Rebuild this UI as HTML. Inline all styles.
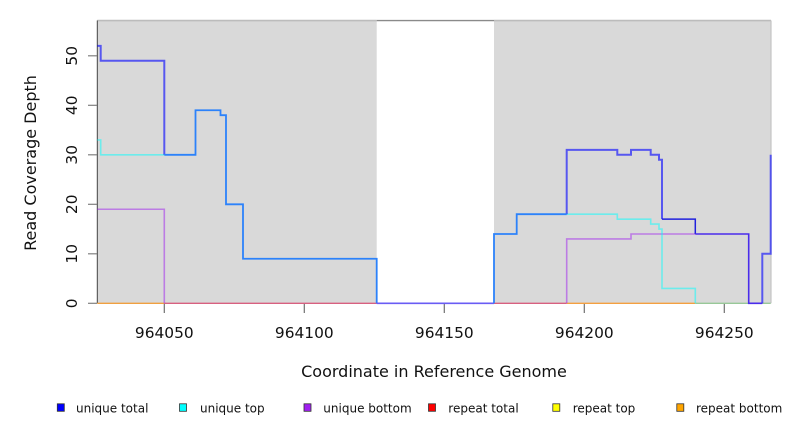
<!DOCTYPE html>
<html>
<head>
<meta charset="utf-8">
<style>
html,body{margin:0;padding:0;background:#fff;}
svg{display:block;}
text{font-family:"DejaVu Sans","Liberation Sans",sans-serif;fill:#111;}
</style>
</head>
<body>
<svg width="792" height="432" viewBox="0 0 792 432" xmlns="http://www.w3.org/2000/svg">
  <!-- gray panels -->
  <rect x="97.3" y="20.5" width="279.4" height="282.8" fill="#d9d9d9"/>
  <rect x="494" y="20.5" width="277" height="282.8" fill="#d9d9d9"/>
  <!-- box -->
  <line x1="97.3" y1="20.6" x2="376.7" y2="20.6" stroke="#bcbcbc" stroke-width="1.6"/>
  <line x1="376.7" y1="20.6" x2="494" y2="20.6" stroke="#8a8a8a" stroke-width="1.4"/>
  <line x1="494" y1="20.6" x2="771" y2="20.6" stroke="#bcbcbc" stroke-width="1.6"/>
  <line x1="771" y1="20.5" x2="771" y2="303.3" stroke="#c4c4c4" stroke-width="1.2"/>
  <line x1="97.3" y1="20.5" x2="97.3" y2="303.3" stroke="#444" stroke-width="1"/>

  <!-- y ticks -->
  <g stroke="#808080" stroke-width="1.2">
    <line x1="88" y1="303.3" x2="97" y2="303.3"/>
    <line x1="88" y1="253.8" x2="97" y2="253.8"/>
    <line x1="88" y1="204.3" x2="97" y2="204.3"/>
    <line x1="88" y1="154.8" x2="97" y2="154.8"/>
    <line x1="88" y1="105.3" x2="97" y2="105.3"/>
    <line x1="88" y1="55.8" x2="97" y2="55.8"/>
  </g>
  <!-- x ticks -->
  <g stroke="#707070" stroke-width="1.2">
    <line x1="164.3" y1="303.3" x2="164.3" y2="313"/>
    <line x1="304.3" y1="303.3" x2="304.3" y2="313"/>
    <line x1="444.3" y1="303.3" x2="444.3" y2="313"/>
    <line x1="584.3" y1="303.3" x2="584.3" y2="313"/>
    <line x1="724.3" y1="303.3" x2="724.3" y2="313"/>
  </g>

  <!-- baseline (repeat series at 0) -->
  <g stroke-width="1.4" fill="none">
    <line x1="97.3" y1="303.3" x2="164.3" y2="303.3" stroke="#f0a040"/>
    <line x1="164.3" y1="303.3" x2="376.7" y2="303.3" stroke="#d86080"/>
    <line x1="376.7" y1="303.3" x2="494" y2="303.3" stroke="#7464f0"/>
    <line x1="494" y1="303.3" x2="566.7" y2="303.3" stroke="#d86080"/>
    <line x1="566.7" y1="303.3" x2="695.3" y2="303.3" stroke="#f4a040"/>
    <line x1="695.3" y1="303.3" x2="748.7" y2="303.3" stroke="#98c898"/>
    <line x1="748.7" y1="303.3" x2="762.3" y2="303.3" stroke="#5a40f0"/>
    <line x1="762.3" y1="303.3" x2="770.7" y2="303.3" stroke="#98c898"/>
  </g>

  <!-- unique bottom -->
  <path d="M97.3,209.25 H164.3 V303.3 M566.7,303.3 V238.95 H631 V234 H695.3"
        fill="none" stroke="rgba(160,32,240,0.5)" stroke-width="1.6"/>
  <!-- unique top (non-overlapping parts) -->
  <path d="M97.3,139.95 H100.7 V154.8 H164.3 M566.7,214.2 H617.3 V219.15 H650.7 V224.1 H659 V229.05 H662 V288.45 H695.3 V303.3"
        fill="none" stroke="rgba(0,255,255,0.5)" stroke-width="1.6"/>
  <!-- total (only) -->
  <path d="M97.3,45.9 H100.7 V60.75 H164.3 V154.8"
        fill="none" stroke="rgba(0,0,255,0.6)" stroke-width="2"/>
  <path d="M566.7,214.2 V149.85 H617.3 V154.8 H631 V149.85 H650.7 V154.8 H659 V159.75 H662 V219.15"
        fill="none" stroke="rgba(0,0,255,0.6)" stroke-width="2"/>
  <path d="M762.3,303.3 V253.8 H770.7 V154.8"
        fill="none" stroke="rgba(0,0,255,0.6)" stroke-width="2"/>
  <path d="M662,219.15 H695.3 V234"
        fill="none" stroke="#2020dd" stroke-width="1.5"/>
  <!-- total + bottom overlap -->
  <path d="M695.3,234 H748.7 V303.3 H762.3"
        fill="none" stroke="#4a2cec" stroke-width="1.6"/>
  <!-- total + top overlap (dodger blue) -->
  <path d="M164.3,154.8 H195.5 V110.25 H220.5 V115.2 H226 V204.3 H243 V258.75 H376.7 V303.3"
        fill="none" stroke="#2c82fa" stroke-width="1.8"/>
  <path d="M376.7,303.3 H494" fill="none" stroke="#6a5cf4" stroke-width="1.6"/>
  <path d="M494,303.3 V234 H516.7 V214.2 H566.7"
        fill="none" stroke="#2c82fa" stroke-width="1.8"/>

  <!-- y tick labels -->
  <g font-size="15.4" text-anchor="middle">
    <text transform="translate(77,303.3) rotate(-90)">0</text>
    <text transform="translate(77,253.8) rotate(-90)">10</text>
    <text transform="translate(77,204.3) rotate(-90)">20</text>
    <text transform="translate(77,154.8) rotate(-90)">30</text>
    <text transform="translate(77,105.3) rotate(-90)">40</text>
    <text transform="translate(77,55.8) rotate(-90)">50</text>
  </g>
  <!-- x tick labels -->
  <g font-size="15.4" text-anchor="middle">
    <text x="164.3" y="338">964050</text>
    <text x="304.3" y="338">964100</text>
    <text x="444.3" y="338">964150</text>
    <text x="584.3" y="338">964200</text>
    <text x="724.3" y="338">964250</text>
  </g>
  <!-- axis titles -->
  <text x="434" y="377" font-size="16" text-anchor="middle">Coordinate in Reference Genome</text>
  <text transform="translate(36,163) rotate(-90)" font-size="16" text-anchor="middle">Read Coverage Depth</text>

  <!-- legend -->
  <g stroke="#333" stroke-width="0.8">
    <rect x="57.3" y="403.8" width="7" height="7.5" fill="#0000ff"/>
    <rect x="179.5" y="403.8" width="7" height="7.5" fill="#00ffff"/>
    <rect x="304" y="403.8" width="7" height="7.5" fill="#a020f0"/>
    <rect x="428.5" y="403.8" width="7" height="7.5" fill="#ff0000"/>
    <rect x="552.8" y="403.8" width="7" height="7.5" fill="#ffff00"/>
    <rect x="676.8" y="403.8" width="7" height="7.5" fill="#ffa500"/>
  </g>
  <g font-size="12">
    <text x="76" y="412.5">unique total</text>
    <text x="200" y="412.5">unique top</text>
    <text x="323.3" y="412.5">unique bottom</text>
    <text x="448.3" y="412.5">repeat total</text>
    <text x="572.7" y="412.5">repeat top</text>
    <text x="696" y="412.5">repeat bottom</text>
  </g>
</svg>
</body>
</html>
